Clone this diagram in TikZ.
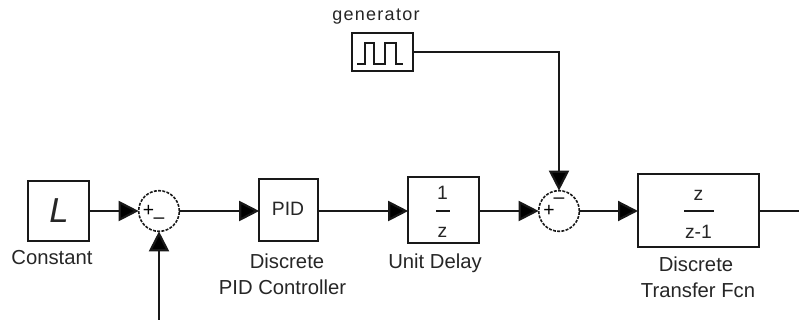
\documentclass[tikz,border=0pt]{standalone}
\usepackage{fontspec}
\setmainfont{Liberation Sans}
\usetikzlibrary{arrows.meta}
\tikzset{
  blockbox/.style={draw=black!90,line width=1.6pt,inner sep=0pt,outer sep=0pt,fill=white},
  sumnode/.style={circle,draw=black!90,line width=1.2pt,dash pattern=on 2.2pt off 1pt,minimum size=30.5pt,inner sep=0pt,outer sep=0pt},
  conn/.style={draw=black!90,line width=1.6pt,-{Triangle[length=15pt,width=15pt,fill=black]}},
  plain/.style={draw=black!90,line width=1.6pt},
  lab/.style={font=\fontsize{15.2pt}{17pt}\selectfont,text=black!85,inner sep=0pt},
  sign/.style={font=\fontsize{14.5pt}{15pt}\selectfont,inner sep=0pt},
  frac/.style={font=\fontsize{14.5pt}{16pt}\selectfont,text=black!85,inner sep=0pt}
}
\begin{document}
\begin{tikzpicture}[x=0.75pt,y=-0.75pt]
\useasboundingbox (0,0) rectangle (799,320);
% blocks
\node[blockbox,minimum width=45.5pt,minimum height=45pt] (cst) at (58.75,211) {};
\node[sumnode] (s1) at (159,211) {};
\node[blockbox,minimum width=44pt,minimum height=46.5pt] (pid) at (288.5,210) {};
\node[blockbox,minimum width=53pt,minimum height=49.5pt] (ud) at (443.5,210) {};
\node[sumnode] (s2) at (559,211) {};
\node[blockbox,minimum width=90.75pt,minimum height=54.75pt] (tf) at (698.5,210.5) {};
\node[blockbox,line width=1.2pt,minimum width=45.75pt,minimum height=28.5pt] (gen) at (382.5,52) {};
\coordinate (outR) at (799,211);
\coordinate (fb) at (159,320);
\coordinate (corner) at (559,52);
% block contents
\node[font=\fontsize{26pt}{28pt}\selectfont\itshape,text=black!85,inner sep=0pt] (cstL) at (59,211) {L};
\node[frac] (pidT) at (288,209) {PID};
\node[frac] (udN) at (442.5,193) {1};
\node[frac] (udD) at (442.5,232) {z};
\draw[plain,line width=1.2pt] (436,211) -- (450,211);
\node[frac] (tfN) at (698.5,195) {z};
\node[frac] (tfD) at (698.5,232) {z-1};
\draw[plain,line width=1.2pt] (684,211) -- (714,211);
\draw[black!90,line width=1.2pt] (357,64) -- (365,64) -- (365,43) -- (374,43) -- (374,64) -- (385,64) -- (385,43) -- (396,43) -- (396,64) -- (403,64);
% signs
\node[sign] (s1p) at (148.5,211) {+};
\node[sign] (s1m) at (159,220.5) {–};
\node[sign] (s2p) at (549,211) {+};
\node[sign] (s2m) at (559,200.5) {–};
% labels
\node[lab] (lcst) at (52,258) {Constant};
\node[lab,font=\fontsize{13.5pt}{15pt}\selectfont\addfontfeatures{LetterSpace=7}] (lgen) at (376,17) {generator};
\node[lab] (lpid1) at (287,261) {Discrete};
\node[lab] (lpid2) at (282.5,287) {PID Controller};
\node[lab] (lud) at (435,263) {Unit Delay};
\node[lab] (ltf1) at (696,264) {Discrete};
\node[lab] (ltf2) at (698,290) {Transfer Fcn};
% connectors
\draw[conn] (cst) -- (s1);
\draw[conn] (s1) -- (s1-|pid.west);
\draw[conn] (pid.east|-s1) -- (s1-|ud.west);
\draw[conn] (ud.east|-s1) -- (s2);
\draw[conn] (s2) -- (s2-|tf.west);
\draw[plain] (tf.east|-s2) -- (outR);
\draw[conn] (fb) -- (s1);
\draw[conn] (gen.east) -- (corner) -- (s2);
\end{tikzpicture}
\end{document}
